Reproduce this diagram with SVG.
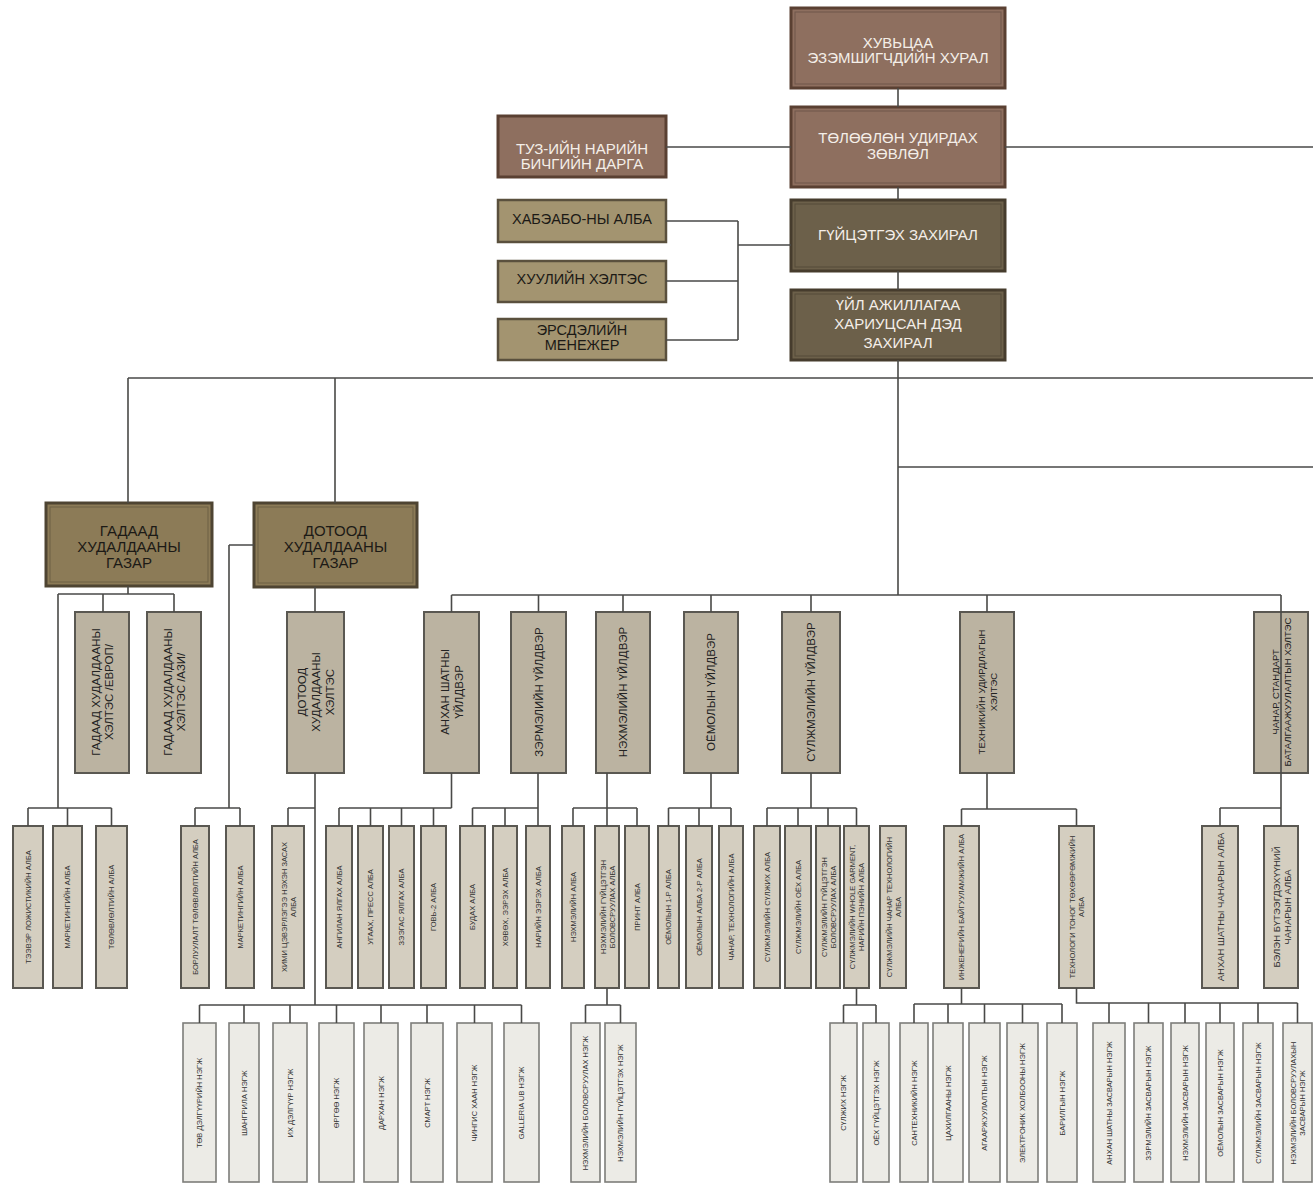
<svg xmlns="http://www.w3.org/2000/svg" width="1313" height="1185" viewBox="0 0 1313 1185">
<style>
text{font-family:"Liberation Sans",Arial,sans-serif;text-anchor:middle;dominant-baseline:central}
.b1{fill:#8e6f5f;stroke:#5a4032;stroke-width:3}
.b2{fill:#6c604a;stroke:#463c2d;stroke-width:3}
.b3{fill:#a39470;stroke:#5a503d;stroke-width:2.5}
.b4{fill:#8c7b57;stroke:#4e4432;stroke-width:3}
.in{fill:none;stroke:#000;stroke-opacity:0.22;stroke-width:1}
.l2{fill:#bbb3a1;stroke:#5a5852;stroke-width:2}
.l3{fill:#d4cec0;stroke:#5a5852;stroke-width:2}
.l4{fill:#ecebe6;stroke:#7d7d7a;stroke-width:1.6}
.tw{fill:#f4eee8;font-size:15px}
.tk{fill:#1c1a16;font-size:14.5px}
.tg{fill:#1c1a16;font-size:15px}
.t2{fill:#222;font-size:11.5px}
.t2s{fill:#222;font-size:9.5px}
.t3{fill:#333;font-size:7.5px}
.t3b{fill:#333;font-size:9.5px}
.t4{fill:#333;font-size:7.5px}
.c{fill:none;stroke:#4a4a48;stroke-width:1.6}
</style>

<g id="nodes">
<g id="n-shareholders"><rect class="b1" x="791" y="8" width="214" height="80"/><rect class="in" x="795" y="12" width="206" height="72"/><text class="tw" x="898" y="42">ХУВЬЦАА</text><text class="tw" x="898" y="57">ЭЗЭМШИГЧДИЙН ХУРАЛ</text></g>
<g id="n-board"><rect class="b1" x="791" y="107" width="214" height="80"/><rect class="in" x="795" y="111" width="206" height="72"/><text class="tw" x="898" y="137">ТӨЛӨӨЛӨН УДИРДАХ</text><text class="tw" x="898" y="153">ЗӨВЛӨЛ</text></g>
<g id="n-secretary"><rect class="b1" x="498" y="116" width="168" height="61"/><text class="tw" x="582" y="148">ТУЗ-ИЙН НАРИЙН</text><text class="tw" x="582" y="163">БИЧГИЙН ДАРГА</text></g>
<g id="n-ceo"><rect class="b2" x="791" y="200" width="214" height="71"/><rect class="in" x="795" y="204" width="206" height="63"/><text class="tw" x="898" y="234">ГҮЙЦЭТГЭХ ЗАХИРАЛ</text></g>
<g id="n-coo"><rect class="b2" x="791" y="290" width="214" height="70"/><rect class="in" x="795" y="294" width="206" height="62"/><text class="tw" x="898" y="304">ҮЙЛ АЖИЛЛАГАА</text><text class="tw" x="898" y="323">ХАРИУЦСАН ДЭД</text><text class="tw" x="898" y="342">ЗАХИРАЛ</text></g>
<g id="n-ohs"><rect class="b3" x="498" y="200" width="168" height="42"/><text class="tk" x="582" y="219">ХАБЭАБО-НЫ АЛБА</text></g>
<g id="n-legal"><rect class="b3" x="498" y="261" width="168" height="41"/><text class="tk" x="582" y="279">ХУУЛИЙН ХЭЛТЭС</text></g>
<g id="n-risk"><rect class="b3" x="498" y="319" width="168" height="41"/><text class="tk" x="582" y="330">ЭРСДЭЛИЙН</text><text class="tk" x="582" y="345">МЕНЕЖЕР</text></g>
<g id="n-foreign"><rect class="b4" x="46" y="503" width="166" height="83"/><rect class="in" x="50" y="507" width="158" height="75"/><text class="tg" x="129" y="530">ГАДААД</text><text class="tg" x="129" y="546">ХУДАЛДААНЫ</text><text class="tg" x="129" y="562">ГАЗАР</text></g>
<g id="n-domestic"><rect class="b4" x="254" y="503" width="163" height="84"/><rect class="in" x="258" y="507" width="155" height="76"/><text class="tg" x="335.5" y="530">ДОТООД</text><text class="tg" x="335.5" y="546">ХУДАЛДААНЫ</text><text class="tg" x="335.5" y="562">ГАЗАР</text></g>

<g id="n-europe"><rect class="l2" x="75" y="612" width="54" height="161"/><text class="t2" transform="translate(102,692) rotate(-90)"><tspan x="0" y="-6.5">ГАДААД ХУДАЛДААНЫ</tspan><tspan x="0" y="6.5">ХЭЛТЭС /ЕВРОП/</tspan></text></g>
<g id="n-asia"><rect class="l2" x="147" y="612" width="54" height="161"/><text class="t2" transform="translate(174,692) rotate(-90)"><tspan x="0" y="-6.5">ГАДААД ХУДАЛДААНЫ</tspan><tspan x="0" y="6.5">ХЭЛТЭС /АЗИ/</tspan></text></g>
<g id="n-dom-dept"><rect class="l2" x="287" y="612" width="57" height="161"/><text class="t2" transform="translate(315.5,692) rotate(-90)"><tspan x="0" y="-14">ДОТООД</tspan><tspan x="0" y="0">ХУДАЛДААНЫ</tspan><tspan x="0" y="14">ХЭЛТЭС</tspan></text></g>
<g id="n-primary"><rect class="l2" x="424" y="612" width="55" height="161"/><text class="t2" transform="translate(451.5,692) rotate(-90)"><tspan x="0" y="-7">АНХАН ШАТНЫ</tspan><tspan x="0" y="7">ҮЙЛДВЭР</tspan></text></g>
<g id="n-spinning"><rect class="l2" x="511" y="612" width="55" height="161"/><text class="t2" transform="translate(538.5,692) rotate(-90)">ЗЭРМЭЛИЙН ҮЙЛДВЭР</text></g>
<g id="n-weaving"><rect class="l2" x="596" y="612" width="54" height="161"/><text class="t2" transform="translate(623,692) rotate(-90)">НЭХМЭЛИЙН ҮЙЛДВЭР</text></g>
<g id="n-sewing"><rect class="l2" x="684" y="612" width="54" height="161"/><text class="t2" transform="translate(711,692) rotate(-90)">ОЁМОЛЫН ҮЙЛДВЭР</text></g>
<g id="n-knitting"><rect class="l2" x="782" y="612" width="58" height="161"/><text class="t2" transform="translate(811,692) rotate(-90)">СҮЛЖМЭЛИЙН ҮЙЛДВЭР</text></g>
<g id="n-technical"><rect class="l2" x="960" y="612" width="54" height="161"/><text class="t2s" transform="translate(987,692) rotate(-90)"><tspan x="0" y="-6">ТЕХНИКИЙН УДИРДЛАГЫН</tspan><tspan x="0" y="6">ХЭЛТЭС</tspan></text></g>
<g id="n-quality"><rect class="l2" x="1254" y="612" width="54" height="161"/><text class="t2s" transform="translate(1281,692) rotate(-90)"><tspan x="0" y="-6">ЧАНАР, СТАНДАРТ</tspan><tspan x="0" y="6">БАТАЛГААЖУУЛАЛТЫН ХЭЛТЭС</tspan></text></g>

<g id="n-logistics"><rect class="l3" x="13" y="826" width="30" height="162"/><text class="t3" transform="translate(28,907) rotate(-90)">ТЭЭВЭР ЛОЖИСТИКИЙН АЛБА</text></g>
<g id="n-marketing1"><rect class="l3" x="53" y="826" width="29" height="162"/><text class="t3" transform="translate(67.5,907) rotate(-90)">МАРКЕТИНГИЙН АЛБА</text></g>
<g id="n-planning"><rect class="l3" x="96" y="826" width="31" height="162"/><text class="t3" transform="translate(111.5,907) rotate(-90)">ТӨЛӨВЛӨЛТИЙН АЛБА</text></g>
<g id="n-sales-plan"><rect class="l3" x="181" y="826" width="28" height="162"/><text class="t3" transform="translate(195,907) rotate(-90)">БОРЛУУЛАЛТ ТӨЛӨВЛӨЛТИЙН АЛБА</text></g>
<g id="n-marketing2"><rect class="l3" x="226" y="826" width="28" height="162"/><text class="t3" transform="translate(240,907) rotate(-90)">МАРКЕТИНГИЙН АЛБА</text></g>
<g id="n-drycleaning"><rect class="l3" x="272" y="826" width="32" height="162"/><text class="t3" transform="translate(288,907) rotate(-90)"><tspan x="0" y="-4.5">ХИМИ ЦЭВЭРЛЭГЭЭ НЭХЭН ЗАСАХ</tspan><tspan x="0" y="4.5">АЛБА</tspan></text></g>
<g id="n-sorting"><rect class="l3" x="326" y="826" width="26" height="162"/><text class="t3" transform="translate(339,907) rotate(-90)">АНГИЛАН ЯЛГАХ АЛБА</text></g>
<g id="n-washing"><rect class="l3" x="358" y="826" width="25" height="162"/><text class="t3" transform="translate(370.5,907) rotate(-90)">УГААХ, ПРЕСС АЛБА</text></g>
<g id="n-dehairing"><rect class="l3" x="389" y="826" width="25" height="162"/><text class="t3" transform="translate(401.5,907) rotate(-90)">ЗЭЭГАС ЯЛГАХ АЛБА</text></g>
<g id="n-gobi2"><rect class="l3" x="421" y="826" width="25" height="162"/><text class="t3" transform="translate(433.5,907) rotate(-90)">ГОВЬ-2 АЛБА</text></g>
<g id="n-dyeing"><rect class="l3" x="460" y="826" width="25" height="162"/><text class="t3" transform="translate(472.5,907) rotate(-90)">БУДАХ АЛБА</text></g>
<g id="n-carding"><rect class="l3" x="493" y="826" width="24" height="162"/><text class="t3" transform="translate(505,907) rotate(-90)">ХӨВӨХ, ЭЭРЭХ АЛБА</text></g>
<g id="n-fine-spin"><rect class="l3" x="526" y="826" width="24" height="162"/><text class="t3" transform="translate(538,907) rotate(-90)">НАРИЙН ЭЭРЭХ АЛБА</text></g>
<g id="n-weave-dept"><rect class="l3" x="562" y="826" width="22" height="162"/><text class="t3" transform="translate(573,907) rotate(-90)">НЭХМЭЛИЙН АЛБА</text></g>
<g id="n-weave-finish"><rect class="l3" x="595" y="826" width="24" height="162"/><text class="t3" transform="translate(607,907) rotate(-90)"><tspan x="0" y="-4.5">НЭХМЭЛИЙН ГҮЙЦЭТГЭН</tspan><tspan x="0" y="4.5">БОЛОВСРУУЛАХ АЛБА</tspan></text></g>
<g id="n-print"><rect class="l3" x="625" y="826" width="24" height="162"/><text class="t3" transform="translate(637,907) rotate(-90)">ПРИНТ АЛБА</text></g>
<g id="n-sew1"><rect class="l3" x="658" y="826" width="21" height="162"/><text class="t3" transform="translate(668.5,907) rotate(-90)">ОЁМОЛЫН 1-Р АЛБА</text></g>
<g id="n-sew2"><rect class="l3" x="686" y="826" width="26" height="162"/><text class="t3" transform="translate(699,907) rotate(-90)">ОЁМОЛЫН АЛБА 2-Р АЛБА</text></g>
<g id="n-sew-qa"><rect class="l3" x="719" y="826" width="24" height="162"/><text class="t3" transform="translate(731,907) rotate(-90)">ЧАНАР, ТЕХНОЛОГИЙН АЛБА</text></g>
<g id="n-knit"><rect class="l3" x="754" y="826" width="26" height="162"/><text class="t3" transform="translate(767,907) rotate(-90)">СҮЛЖМЭЛИЙН СҮЛЖИХ АЛБА</text></g>
<g id="n-knit-sew"><rect class="l3" x="785" y="826" width="26" height="162"/><text class="t3" transform="translate(798,907) rotate(-90)">СҮЛЖМЭЛИЙН ОЁХ АЛБА</text></g>
<g id="n-knit-finish"><rect class="l3" x="816" y="826" width="24" height="162"/><text class="t3" transform="translate(828,907) rotate(-90)"><tspan x="0" y="-4.5">СҮЛЖМЭЛИЙН ГҮЙЦЭТГЭН</tspan><tspan x="0" y="4.5">БОЛОВСРУУЛАХ АЛБА</tspan></text></g>
<g id="n-whole-garment"><rect class="l3" x="844" y="826" width="25" height="162"/><text class="t3" transform="translate(856.5,907) rotate(-90)"><tspan x="0" y="-4.5">СҮЛЖМЭЛИЙН WHOLE GARMENT,</tspan><tspan x="0" y="4.5">НАРИЙН ПЭНИЙН АЛБА</tspan></text></g>
<g id="n-knit-qa"><rect class="l3" x="880" y="826" width="26" height="162"/><text class="t3" transform="translate(893,907) rotate(-90)"><tspan x="0" y="-4.5">СҮЛЖМЭЛИЙН ЧАНАР ТЕХНОЛОГИЙН</tspan><tspan x="0" y="4.5">АЛБА</tspan></text></g>
<g id="n-engineering"><rect class="l3" x="944" y="826" width="35" height="162"/><text class="t3" transform="translate(961.5,907) rotate(-90)">ИНЖЕНЕРИЙН БАЙГУУЛАМЖИЙН АЛБА</text></g>
<g id="n-equipment"><rect class="l3" x="1059" y="826" width="35" height="162"/><text class="t3" transform="translate(1076.5,907) rotate(-90)"><tspan x="0" y="-4.5">ТЕХНОЛОГИ ТОНОГ ТӨХӨӨРӨМЖИЙН</tspan><tspan x="0" y="4.5">АЛБА</tspan></text></g>
<g id="n-primary-qa"><rect class="l3" x="1202" y="826" width="36" height="162"/><text class="t3b" transform="translate(1220,907) rotate(-90)">АНХАН ШАТНЫ ЧАНАРЫН АЛБА</text></g>
<g id="n-finished-qa"><rect class="l3" x="1264" y="826" width="34" height="162"/><text class="t3b" transform="translate(1281,907) rotate(-90)"><tspan x="0" y="-5.5">БЭЛЭН БҮТЭЭГДЭХҮҮНИЙ</tspan><tspan x="0" y="5.5">ЧАНАРЫН АЛБА</tspan></text></g>

<g id="n-store1"><rect class="l4" x="183" y="1023" width="33" height="159"/><text class="t4" transform="translate(199.5,1103) rotate(-90)">ТӨВ ДЭЛГҮҮРИЙН НЭГЖ</text></g>
<g id="n-store2"><rect class="l4" x="229" y="1023" width="30" height="159"/><text class="t4" transform="translate(244,1103) rotate(-90)">ШАНГРИЛА НЭГЖ</text></g>
<g id="n-store3"><rect class="l4" x="273" y="1023" width="34" height="159"/><text class="t4" transform="translate(290,1103) rotate(-90)">ИХ ДЭЛГҮҮР НЭГЖ</text></g>
<g id="n-store4"><rect class="l4" x="319" y="1023" width="35" height="159"/><text class="t4" transform="translate(336.5,1103) rotate(-90)">ӨРГӨӨ НЭГЖ</text></g>
<g id="n-store5"><rect class="l4" x="364" y="1023" width="34" height="159"/><text class="t4" transform="translate(381,1103) rotate(-90)">ДАРХАН НЭГЖ</text></g>
<g id="n-store6"><rect class="l4" x="411" y="1023" width="32" height="159"/><text class="t4" transform="translate(427,1103) rotate(-90)">СМАРТ НЭГЖ</text></g>
<g id="n-store7"><rect class="l4" x="457" y="1023" width="35" height="159"/><text class="t4" transform="translate(474.5,1103) rotate(-90)">ЧИНГИС ХААН НЭГЖ</text></g>
<g id="n-store8"><rect class="l4" x="504" y="1023" width="35" height="159"/><text class="t4" transform="translate(521.5,1103) rotate(-90)">GALLERIA UB НЭГЖ</text></g>
<g id="n-weave-proc"><rect class="l4" x="571" y="1023" width="29" height="159"/><text class="t4" transform="translate(585.5,1103) rotate(-90)">НЭХМЭЛИЙН БОЛОВСРУУЛАХ НЭГЖ</text></g>
<g id="n-weave-fin-unit"><rect class="l4" x="605" y="1023" width="31" height="159"/><text class="t4" transform="translate(620.5,1103) rotate(-90)">НЭХМЭЛИЙН ГҮЙЦЭТГЭХ НЭГЖ</text></g>
<g id="n-knit-unit"><rect class="l4" x="830" y="1023" width="27" height="159"/><text class="t4" transform="translate(843.5,1103) rotate(-90)">СҮЛЖИХ НЭГЖ</text></g>
<g id="n-sew-fin-unit"><rect class="l4" x="863" y="1023" width="26" height="159"/><text class="t4" transform="translate(876,1103) rotate(-90)">ОЁХ ГҮЙЦЭТГЭХ НЭГЖ</text></g>
<g id="n-plumbing"><rect class="l4" x="900" y="1023" width="28" height="159"/><text class="t4" transform="translate(914,1103) rotate(-90)">САНТЕХНИКИЙН НЭГЖ</text></g>
<g id="n-electric"><rect class="l4" x="933" y="1023" width="30" height="159"/><text class="t4" transform="translate(948,1103) rotate(-90)">ЦАХИЛГААНЫ НЭГЖ</text></g>
<g id="n-ventilation"><rect class="l4" x="969" y="1023" width="31" height="159"/><text class="t4" transform="translate(984.5,1103) rotate(-90)">АГААРЖУУЛАЛТЫН НЭГЖ</text></g>
<g id="n-electronics"><rect class="l4" x="1007" y="1023" width="31" height="159"/><text class="t4" transform="translate(1022.5,1103) rotate(-90)">ЭЛЕКТРОНИК ХОЛБООНЫ НЭГЖ</text></g>
<g id="n-building"><rect class="l4" x="1047" y="1023" width="30" height="159"/><text class="t4" transform="translate(1062,1103) rotate(-90)">БАРИЛГЫН НЭГЖ</text></g>
<g id="n-rep1"><rect class="l4" x="1093" y="1023" width="32" height="159"/><text class="t4" transform="translate(1109,1103) rotate(-90)">АНХАН ШАТНЫ ЗАСВАРЫН НЭГЖ</text></g>
<g id="n-rep2"><rect class="l4" x="1134" y="1023" width="29" height="159"/><text class="t4" transform="translate(1148.5,1103) rotate(-90)">ЗЭРМЭЛИЙН ЗАСВАРЫН НЭГЖ</text></g>
<g id="n-rep3"><rect class="l4" x="1171" y="1023" width="28" height="159"/><text class="t4" transform="translate(1185,1103) rotate(-90)">НЭХМЭЛИЙН ЗАСВАРЫН НЭГЖ</text></g>
<g id="n-rep4"><rect class="l4" x="1206" y="1023" width="28" height="159"/><text class="t4" transform="translate(1220,1103) rotate(-90)">ОЁМОЛЫН ЗАСВАРЫН НЭГЖ</text></g>
<g id="n-rep5"><rect class="l4" x="1243" y="1023" width="30" height="159"/><text class="t4" transform="translate(1258,1103) rotate(-90)">СҮЛЖМЭЛИЙН ЗАСВАРЫН НЭГЖ</text></g>
<g id="n-rep6"><rect class="l4" x="1283" y="1023" width="29" height="159"/><text class="t4" transform="translate(1297.5,1103) rotate(-90)"><tspan x="0" y="-4.5">НЭХМЭЛИЙН БОЛОВСРУУЛАХЫН</tspan><tspan x="0" y="4.5">ЗАСВАРЫН НЭГЖ</tspan></text></g>
</g>

<g id="connectors" class="c">
<path d="M898 88V107M898 187V200M898 271V290M666 147H791M1005 147H1313"/>
<path d="M666 221H738M666 281H738M666 340H738M738 221V340M738 245H791"/>
<path d="M898 360V595M128 378H1313M898 467H1313M128 378V503M335 378V503"/>
<path d="M128 586V594M58 594H174M103 594V612M174 594V612M58 594V808M28 808H111.5M28 808V826M67.5 808V826M111.5 808V826"/>
<path d="M229 545H254M229 545V808M195 808H240M195 808V826M240 808V826"/>
<path d="M315 587V612M315 773V1005M288 808H315M288 808V826"/>
<path d="M199.5 1005H521.5M199.5 1005V1023M244 1005V1023M290 1005V1023M336.5 1005V1023M381 1005V1023M427 1005V1023M474.5 1005V1023M521.5 1005V1023"/>
<path d="M451.5 595H1281M451.5 595V612M538.5 595V612M623 595V612M711 595V612M811 595V612M987 595V612"/>
<path d="M451.5 773V808M339 808H451.5M339 808V826M370.5 808V826M401.5 808V826M433.5 808V826"/>
<path d="M538 773V826M472.5 808H538M472.5 808V826M505 808V826"/>
<path d="M607 773V826M573 808H637M573 808V826M637 808V826M607 988V1005M585.5 1005H620.5M585.5 1005V1023M620.5 1005V1023"/>
<path d="M711 773V808M668.5 808H731M668.5 808V826M699 808V826M731 808V826"/>
<path d="M811 773V808M767 808H856.5M767 808V826M798 808V826M828 808V826M856.5 808V826M856.5 988V1005M843.5 1005H876M843.5 1005V1023M876 1005V1023"/>
<path d="M987 773V809M961.5 809H1076.5M961.5 809V826M1076.5 809V826"/>
<path d="M961.5 988V1004M914 1004H1062M914 1004V1023M948 1004V1023M984.5 1004V1023M1022.5 1004V1023M1062 1004V1023"/>
<path d="M1076.5 988V1003H1297.5M1109 1003V1023M1148.5 1003V1023M1185 1003V1023M1220 1003V1023M1258 1003V1023M1297.5 1003V1023"/>
<path d="M1281 595V826M1220 808H1281M1220 808V826"/>
</g>
</svg>
